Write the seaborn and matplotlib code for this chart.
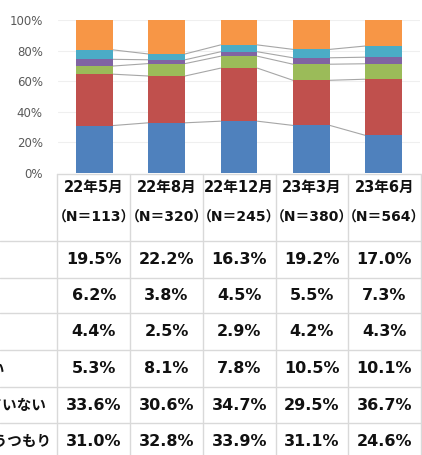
import matplotlib
matplotlib.use("Agg")
import matplotlib.pyplot as plt
from matplotlib.lines import Line2D
import seaborn as sns
import pandas as pd
import numpy as np

sns.set_theme(style="white")
plt.rcParams['font.family'] = ['DejaVu Sans', 'Noto Sans CJK JP']

categories = ["22年5月", "22年8月", "22年12月", "23年3月", "23年6月"]
n_labels = ["（N＝113）", "（N＝320）", "（N＝245）", "（N＝380）", "（N＝564）"]
# series from bottom of stack to top
series_names = ["買うつもり", "まだ決めていない", "買わない", "その他", "わからない", "既に買った"]
s_blue = [31.0, 32.8, 33.9, 31.1, 24.6]
s_red = [33.6, 30.6, 34.7, 29.5, 36.7]
s_green = [5.3, 8.1, 7.8, 10.5, 10.1]
s_purple = [4.4, 2.5, 2.9, 4.2, 4.3]
s_cyan = [6.2, 3.8, 4.5, 5.5, 7.3]
s_orange = [19.5, 22.2, 16.3, 19.2, 17.0]
series_vals = [s_blue, s_red, s_green, s_purple, s_cyan, s_orange]
colors = ["#4F81BD", "#C0504D", "#9BBB59", "#8064A2", "#4BACC6", "#F79646"]

W, H = 422, 455
fig = plt.figure(figsize=(W / 100, H / 100), dpi=100)

def fx(px):
    return px / W

def fy(py):
    return 1 - py / H

ax_l, ax_r, ax_t, ax_b = 58, 420, 20, 173
ax = fig.add_axes([fx(ax_l), fy(ax_b), fx(ax_r) - fx(ax_l), fy(ax_t) - fy(ax_b)])

vals = np.array(series_vals)
cum = np.cumsum(vals, axis=0)
cum = cum / cum[-1] * 100

bw = 0.51
for k in range(len(series_vals) - 1, -1, -1):
    df = pd.DataFrame({"cat": categories, "v": cum[k]})
    sns.barplot(data=df, x="cat", y="v", color=colors[k], width=bw,
                saturation=1, ax=ax, linewidth=0, zorder=3)

# series lines
for k in range(len(series_vals) - 1):
    for i in range(len(categories) - 1):
        ax.plot([i + bw / 2, i + 1 - bw / 2], [cum[k][i], cum[k][i + 1]],
                color="#A6A6A6", lw=0.8, zorder=2)

ax.set_xlim(-0.5, len(categories) - 0.5)
ax.set_ylim(0, 100)
ax.set_yticks([0, 20, 40, 60, 80, 100])
ax.set_yticklabels([f"{t}%" for t in [0, 20, 40, 60, 80, 100]],
                   fontsize=8.5, color="#595959")
ax.tick_params(axis="y", length=0, pad=11)
ax.set_xticks([])
ax.set_xlabel("")
ax.set_ylabel("")
for sp in ax.spines.values():
    sp.set_visible(False)
ax.yaxis.grid(True, color="#EFEFEF", lw=0.8, zorder=0)
ax.set_axisbelow(True)

# data table
gc = "#D9D9D9"
col_edges = [57.5, 130, 203, 275.5, 348, 420.5]
row_edges = [241, 278, 313, 350, 387, 423]
fig.add_artist(Line2D([fx(57.5), fx(420.5)], [fy(173.5), fy(173.5)], color=gc, lw=1))
for x in col_edges:
    fig.add_artist(Line2D([fx(x), fx(x)], [fy(173.5), fy(460)], color=gc, lw=1))
for y in row_edges:
    fig.add_artist(Line2D([fx(0), fx(420.5)], [fy(y), fy(y)], color=gc, lw=1))

centers = [(col_edges[i] + col_edges[i + 1]) / 2 for i in range(5)]
for i, c in enumerate(categories):
    fig.text(fx(centers[i]), fy(187), c, ha="center", va="center",
             fontsize=10.5, fontweight="bold", color="#111111")
    fig.text(fx(centers[i]), fy(218), n_labels[i], ha="center", va="center",
             fontsize=10, fontweight="bold", color="#111111")

row_centers = [259.5, 295.5, 331.5, 368.5, 405, 441]
label_end = [None, None, None, 5, 47, 52]
for r in range(6):
    k = 5 - r
    for i in range(5):
        fig.text(fx(centers[i]), fy(row_centers[r]), f"{series_vals[k][i]:.1f}%",
                 ha="center", va="center", fontsize=11.5, fontweight="bold",
                 color="#111111")
    if label_end[r] is not None:
        fig.text(fx(label_end[r]), fy(row_centers[r]), series_names[k],
                 ha="right", va="center", fontsize=10.5, fontweight="bold",
                 color="#111111")

fig.savefig("out.png", dpi=100)
